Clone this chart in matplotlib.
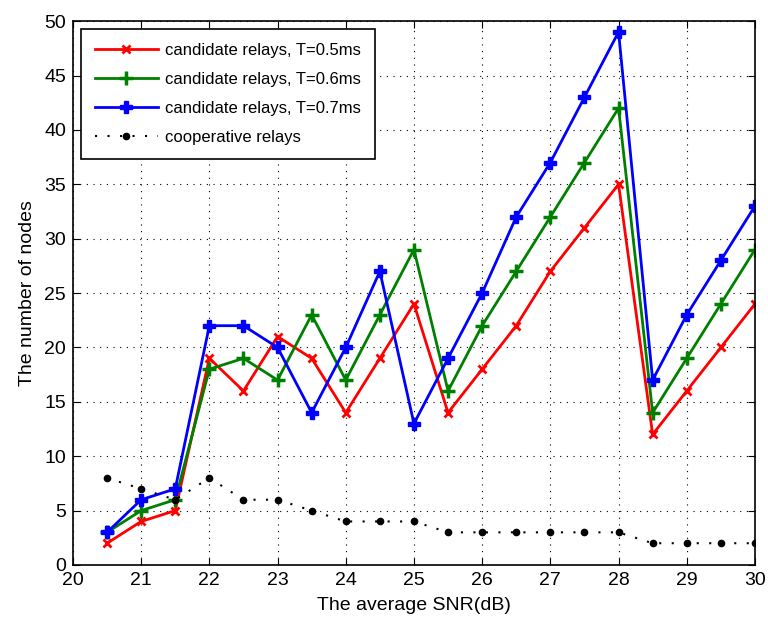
import numpy as np
import matplotlib.pyplot as plt

plt.rcParams['font.family'] = ['Liberation Sans', 'DejaVu Sans']

snr = [20.5, 21, 21.5, 22, 22.5, 23, 23.5, 24, 24.5, 25,
       25.5, 26, 26.5, 27, 27.5, 28, 28.5, 29, 29.5, 30]
cand_05 = [2, 4, 5, 19, 16, 21, 19, 14, 19, 24, 14, 18, 22, 27, 31, 35, 12, 16, 20, 24]
cand_06 = [3, 5, 6, 18, 19, 17, 23, 17, 23, 29, 16, 22, 27, 32, 37, 42, 14, 19, 24, 29]
cand_07 = [3, 6, 7, 22, 22, 20, 14, 20, 27, 13, 19, 25, 32, 37, 43, 49, 17, 23, 28, 33]
coop = [8, 7, 6, 8, 6, 6, 5, 4, 4, 4, 3, 3, 3, 3, 3, 3, 2, 2, 2, 2]

fig = plt.figure(figsize=(7.68, 6.18), dpi=100)
ax = fig.add_axes([0.095, 0.0858, 0.888, 0.880])

ax.plot(snr, cand_05, color='#ff0000', lw=2, marker='x', ms=6, mew=2,
        label='candidate relays, T=0.5ms')
ax.plot(snr, cand_06, color='#008000', lw=2, marker='+', ms=10, mew=2.5,
        label='candidate relays, T=0.6ms')
ax.plot(snr, cand_07, color='#0000ff', lw=2, marker='P', ms=8.5, mew=1,
        label='candidate relays, T=0.7ms')
ax.plot(snr, coop, color='black', lw=1.5, ls=(0, (1, 5)), marker='.', ms=9,
        label='cooperative relays')

ax.set_xlim(20, 30)
ax.set_ylim(0, 50)
ax.set_xticks(np.arange(20, 31, 1))
ax.set_yticks(np.arange(0, 51, 5))
ax.tick_params(direction='in', labelsize=14, length=5, pad=5, top=True, right=True)
ax.grid(True, ls=(0, (1, 5)), color='black', lw=0.8)
for s in ax.spines.values():
    s.set_linewidth(1.2)

ax.set_xlabel('The average SNR(dB)', fontsize=14, labelpad=6)
ax.set_ylabel('The number of nodes', fontsize=14, labelpad=6)

leg = ax.legend(loc='upper left', fontsize=12, fancybox=False, framealpha=1,
                edgecolor='black', borderpad=0.8, handlelength=3.8,
                handletextpad=0.45, borderaxespad=0.5, labelspacing=0.85)
leg.get_frame().set_linewidth(1.2)

fig.savefig('out.png', dpi=100)
